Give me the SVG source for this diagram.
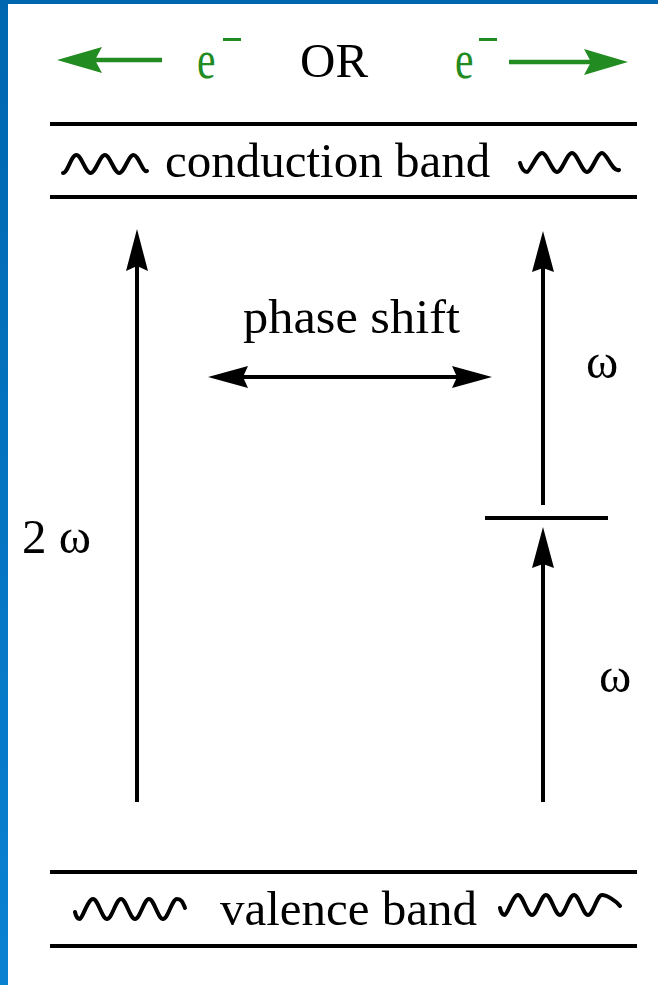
<svg xmlns="http://www.w3.org/2000/svg" width="658" height="985" viewBox="0 0 658 985">
<defs>
<linearGradient id="blueL" x1="0" y1="0" x2="0" y2="1"><stop offset="0" stop-color="#0066B0"/><stop offset="1" stop-color="#0A82D2"/></linearGradient>
</defs>
<style>
.t{font-family:"Liberation Serif","Times New Roman",serif;font-size:49px;fill:#000}
.g{fill:#228B22}
.ln{stroke:#000;stroke-width:4;fill:none}
.wv{stroke:#000;stroke-width:4;fill:none;stroke-linecap:round}
.hd{fill:#000}
.gl{stroke:#228B22;stroke-width:4.5;fill:none}
</style>
<rect width="658" height="985" fill="#FFFFFF"/>
<rect x="0" y="0" width="658" height="4" fill="#0066B0"/>
<rect x="0" y="0" width="8" height="985" fill="url(#blueL)"/>

<g id="electron-left">
<line class="gl" x1="95" y1="60" x2="162" y2="60"/>
<polygon class="g" points="57,60 102,47 95,60 102,73"/>
<text class="t g" transform="translate(197,78) scale(0.85,1.1)" font-size="60">e</text>
<rect class="g" x="223" y="38" width="18" height="3"/>
</g>
<g id="or-label"><text class="t" x="300" y="77" font-size="48">OR</text></g>
<g id="electron-right">
<text class="t g" transform="translate(455,78) scale(0.85,1.1)" font-size="60">e</text>
<rect class="g" x="479" y="38" width="18" height="3"/>
<line class="gl" x1="509" y1="62" x2="591" y2="62"/>
<polygon class="g" points="628,62 584,49 591,62 584,75"/>
</g>

<g id="conduction-band">
<line class="ln" x1="50" y1="124" x2="637" y2="124"/>
<line class="ln" x1="50" y1="197" x2="637" y2="197"/>
<path class="wv" d="M63,173 C68,173 71,155 76.3,155 S85.4,173 90.6,173 S99.7,155 104.9,155 S114,173 119.2,173 S128.3,155 133.5,155 S142.6,173 147,171"/>
<text class="t" x="165" y="177">conduction band</text>
<path class="wv" d="M520,163 C522,170 524,172 527,172 S537,153 542,153 S552,172 557,172 S567,153 572,153 S582,172 587,172 S597,153 602,153 S612,172 619,170"/>
</g>

<g id="valence-band">
<line class="ln" x1="50" y1="872" x2="637" y2="872"/>
<line class="ln" x1="50" y1="946" x2="637" y2="946"/>
<path class="wv" d="M75,912 C76,917 78,919 80,919 S88,899 93,899 S102,919 107,919 S116,899 121,899 S130,919 135,919 S144,899 149,899 S158,919 163,919 S172,899 177,899 S183,903 185,908"/>
<text class="t" x="220" y="925">valence band</text>
<path class="wv" d="M500,908 C501,913 503,915 505,915 S513,895 518,895 S527,915 532,915 S541,895 546,895 S555,915 560,915 S569,895 574,895 S583,915 588,915 S597,895 602,895 S616,901 620,906"/>
</g>

<g id="label-2omega"><text class="t" x="22" y="553" font-size="48">2 ω</text></g>
<g id="label-phase-shift"><text class="t" x="243" y="333" font-size="50" textLength="217" lengthAdjust="spacingAndGlyphs">phase shift</text></g>
<g id="label-omega-upper"><text class="t" x="586" y="378" font-size="52">ω</text></g>
<g id="label-omega-lower"><text class="t" x="599" y="692" font-size="52">ω</text></g>
<g id="virtual-level"><line class="ln" x1="485" y1="518" x2="608" y2="518"/></g>

<g id="connectors">
<line class="ln" x1="137" y1="802" x2="137" y2="266"/>
<polygon class="hd" points="137,229 148,271 137,266 126,271"/>
<line class="ln" x1="543" y1="505" x2="543" y2="268"/>
<polygon class="hd" points="543,231 554,272 543,268 532,272"/>
<line class="ln" x1="543" y1="802" x2="543" y2="564"/>
<polygon class="hd" points="543,527 554,568 543,564 532,568"/>
<line class="ln" x1="243" y1="377" x2="457" y2="377"/>
<polygon class="hd" points="208,377 248,366 243,377 248,388"/>
<polygon class="hd" points="492,377 452,366 457,377 452,388"/>
</g>
</svg>
